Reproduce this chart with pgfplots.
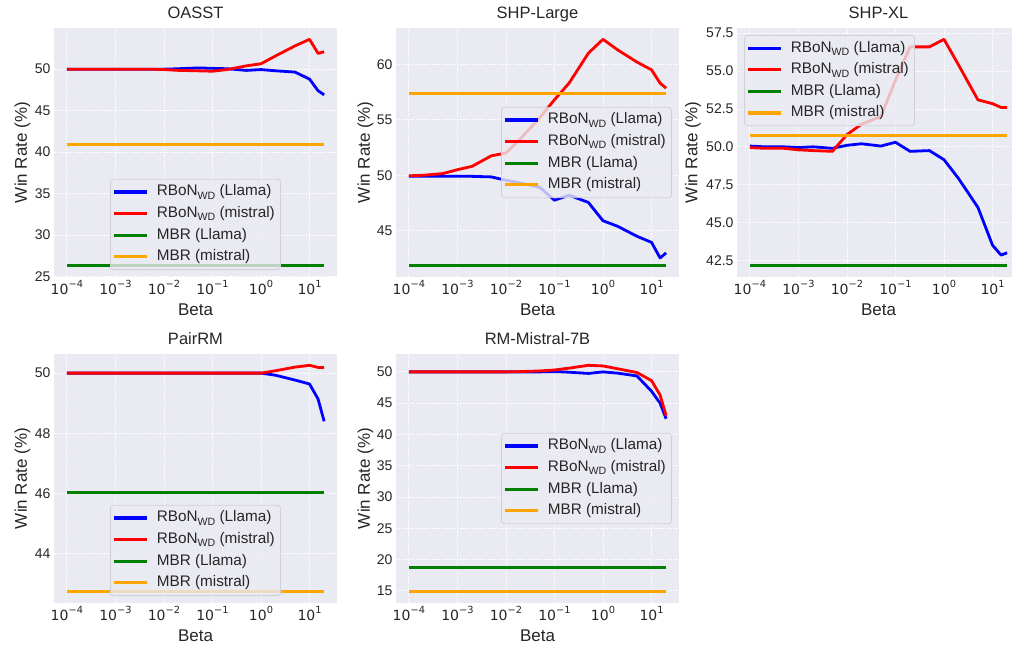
\documentclass[border=0pt]{standalone}
\usepackage{fontspec}
\setmainfont{Liberation Sans}
\newfontfamily\dejavu{DejaVu Sans}
\usepackage{pgfplots}
\pgfplotsset{compat=1.18}
\usepackage{pgfplotstable}

\definecolor{bgc}{HTML}{EAEAF2}
\definecolor{txt}{HTML}{262626}
\definecolor{mgreen}{HTML}{008000}
\definecolor{morange}{HTML}{FFA500}
\definecolor{legedge}{RGB}{208,208,214}

% power-of-ten tick labels and the WD subscript
\newcommand{\pw}[1]{{\dejavu 10\raisebox{0.47em}{\fontsize{9.8pt}{10pt}\selectfont #1}}}
\newcommand{\wdsub}{\raisebox{-0.22em}{\fontsize{10.6pt}{11pt}\selectfont WD}}

% win rates (%) per beta for the two RBoN_WD runs
\pgfplotstableread{
beta   llama  mistral
1e-4   50.0   50.0
2e-4   50.0   50.0
5e-4   50.0   50.0
1e-3   50.0   50.0
2e-3   50.0   50.0
5e-3   50.0   50.0
0.01   50.0   49.95
0.02   50.05  49.85
0.05   50.15  49.8
0.1    50.1   49.75
0.2    50.05  49.95
0.5    49.85  50.4
1      49.95  50.65
2      49.8   51.6
5      49.65  52.8
10     48.8   53.6
15     47.4   51.9
20     46.9   52.1
}\oasst

\pgfplotstableread{
beta   llama  mistral
1e-4   49.9   49.95
2e-4   49.9   50.0
5e-4   49.9   50.15
1e-3   49.9   50.5
2e-3   49.9   50.8
5e-3   49.85  51.75
0.01   49.55  52.0
0.02   49.3   53.3
0.05   48.9   55.2
0.1    47.75  56.8
0.2    48.2   58.3
0.5    47.55  61.0
1      45.9   62.25
2      45.4   61.3
5      44.5   60.2
10     43.95  59.5
15     42.55  58.3
20     43.0   57.85
}\shplarge

\pgfplotstableread{
beta   llama  mistral
1e-4   50.05  49.95
2e-4   50.0   49.9
5e-4   50.0   49.9
1e-3   49.95  49.8
2e-3   50.0   49.75
5e-3   49.9   49.7
0.01   50.1   50.8
0.02   50.2   51.5
0.05   50.05  52.0
0.1    50.3   54.4
0.2    49.7   56.6
0.5    49.75  56.6
1      49.15  57.1
2      47.9   55.4
5      46.0   53.1
10     43.5   52.85
15     42.85  52.6
20     43.0   52.6
}\shpxl

\pgfplotstableread{
beta   llama  mistral
1e-4   50.0   50.0
2e-4   50.0   50.0
5e-4   50.0   50.0
1e-3   50.0   50.0
2e-3   50.0   50.0
5e-3   50.0   50.0
0.01   50.0   50.0
0.02   50.0   50.0
0.05   50.0   50.0
0.1    50.0   50.0
0.2    50.0   50.0
0.5    50.0   50.0
1      50.0   50.0
2      49.93  50.08
5      49.77  50.2
10     49.64  50.26
15     49.14  50.19
20     48.4   50.19
}\pairrm

\pgfplotstableread{
beta   llama  mistral
1e-4   50.0   50.0
2e-4   50.0   50.0
5e-4   50.0   50.0
1e-3   50.0   50.0
2e-3   50.0   50.0
5e-3   50.0   50.0
0.01   50.0   50.0
0.02   50.0   50.05
0.05   50.0   50.15
0.1    50.05  50.3
0.2    49.95  50.6
0.5    49.75  51.05
1      50.0   50.95
2      49.8   50.5
5      49.35  49.9
10     46.9   48.6
15     45.0   46.3
20     42.5   43.0
}\rmmistral

\pgfplotsset{
  panel/.style={
    scale only axis, width=283pt, height=249pt,
    enlargelimits=0.05,
    axis background/.style={fill=bgc},
    axis line style={draw=none},
    tick style={draw=none},
    major tick length=0pt, minor tick length=0pt,
    xtick={1e-4,1e-3,1e-2,1e-1,1,10},
    xticklabels={\pw{−4},\pw{−3},\pw{−2},\pw{−1},\pw{0},\pw{1}},
    grid=major,
    major grid style={white, line width=0.8pt, dash pattern=on 1.6pt off 1.2pt},
    tick label style={font=\fontsize{14pt}{16pt}\selectfont, text=txt},
    yticklabel style={/pgf/number format/assume math mode=true},
    title style={font=\fontsize{16.5pt}{18pt}\selectfont, text=txt,
      at={(0.5,1)}, anchor=base, yshift=3pt},
    xlabel={Beta}, ylabel={Win Rate (\%)},
    label style={font=\fontsize{17pt}{19pt}\selectfont, text=txt},
    xlabel style={at={(0.5,-0.155)}, anchor=base},
    ylabel style={at={(-0.0954,0.5)}, anchor=base},
    legend cell align=left,
    legend style={font=\fontsize{15.3pt}{17pt}\selectfont, text=txt,
      fill=bgc, fill opacity=0.8, text opacity=1,
      draw=legedge, line width=0.8pt, rounded corners=3pt,
      inner sep=2pt, row sep=0pt,
      nodes={inner sep=3.7pt, text height=11pt, text depth=3.2pt},
      /tikz/every odd column/.style={column sep=5pt}},
    legend image code/.code={\draw[line width=3.2pt] (0pt,0pt) -- (32.5pt,0pt);},
    every axis plot/.append style={line width=2.8pt, line join=round},
  },
}

\begin{document}
\begin{tikzpicture}
\useasboundingbox (0pt,0pt) rectangle (1012pt,647pt);

\begin{semilogxaxis}[panel, at={(54pt,370pt)}, anchor=south west,
  title={OASST}, ytick={25,30,35,40,45,50},
  legend style={at={(0.5,0.028)}, anchor=south}]
  \addplot[blue] table[x=beta,y=llama] {\oasst};
  \addplot[red] table[x=beta,y=mistral] {\oasst};
  \addplot[mgreen] coordinates {(1e-4,26.3) (20,26.3)};
  \addplot[morange] coordinates {(1e-4,40.9) (20,40.9)};
  \legend{RBoN\wdsub{} (Llama), RBoN\wdsub{} (mistral), MBR (Llama), MBR (mistral)}
\end{semilogxaxis}

\begin{semilogxaxis}[panel, at={(396pt,370pt)}, anchor=south west,
  title={SHP-Large}, ytick={45,50,55,60},
  ylabel style={at={(-0.092,0.5)}},
  legend style={at={(0.975,0.5)}, anchor=east}]
  \addplot[blue] table[x=beta,y=llama] {\shplarge};
  \addplot[red] table[x=beta,y=mistral] {\shplarge};
  \addplot[mgreen] coordinates {(1e-4,41.85) (20,41.85)};
  \addplot[morange] coordinates {(1e-4,57.4) (20,57.4)};
  \legend{RBoN\wdsub{} (Llama), RBoN\wdsub{} (mistral), MBR (Llama), MBR (mistral)}
\end{semilogxaxis}

\begin{semilogxaxis}[panel, at={(737pt,370pt)}, anchor=south west,
  title={SHP-XL}, ytick={42.5,45,47.5,50,52.5,55,57.5},
  yticklabel style={/pgf/number format/.cd, fixed, fixed zerofill, precision=1},
  ylabel style={at={(-0.140,0.5)}},
  legend style={at={(0.025,0.972)}, anchor=north west}]
  \addplot[blue] table[x=beta,y=llama] {\shpxl};
  \addplot[red] table[x=beta,y=mistral] {\shpxl};
  \addplot[mgreen] coordinates {(1e-4,42.15) (20,42.15)};
  \addplot[morange] coordinates {(1e-4,50.75) (20,50.75)};
  \legend{RBoN\wdsub{} (Llama), RBoN\wdsub{} (mistral), MBR (Llama), MBR (mistral)}
\end{semilogxaxis}

\begin{semilogxaxis}[panel, at={(54pt,44pt)}, anchor=south west,
  title={PairRM}, ytick={44,46,48,50},
  legend style={at={(0.5,0.028)}, anchor=south}]
  \addplot[blue] table[x=beta,y=llama] {\pairrm};
  \addplot[red] table[x=beta,y=mistral] {\pairrm};
  \addplot[mgreen] coordinates {(1e-4,46.03) (20,46.03)};
  \addplot[morange] coordinates {(1e-4,42.74) (20,42.74)};
  \legend{RBoN\wdsub{} (Llama), RBoN\wdsub{} (mistral), MBR (Llama), MBR (mistral)}
\end{semilogxaxis}

\begin{semilogxaxis}[panel, at={(396pt,44pt)}, anchor=south west,
  title={RM-Mistral-7B}, ytick={15,20,25,30,35,40,45,50},
  ylabel style={at={(-0.092,0.5)}},
  legend style={at={(0.975,0.5)}, anchor=east}]
  \addplot[blue] table[x=beta,y=llama] {\rmmistral};
  \addplot[red] table[x=beta,y=mistral] {\rmmistral};
  \addplot[mgreen] coordinates {(1e-4,18.7) (20,18.7)};
  \addplot[morange] coordinates {(1e-4,14.85) (20,14.85)};
  \legend{RBoN\wdsub{} (Llama), RBoN\wdsub{} (mistral), MBR (Llama), MBR (mistral)}
\end{semilogxaxis}
\end{tikzpicture}
\end{document}
